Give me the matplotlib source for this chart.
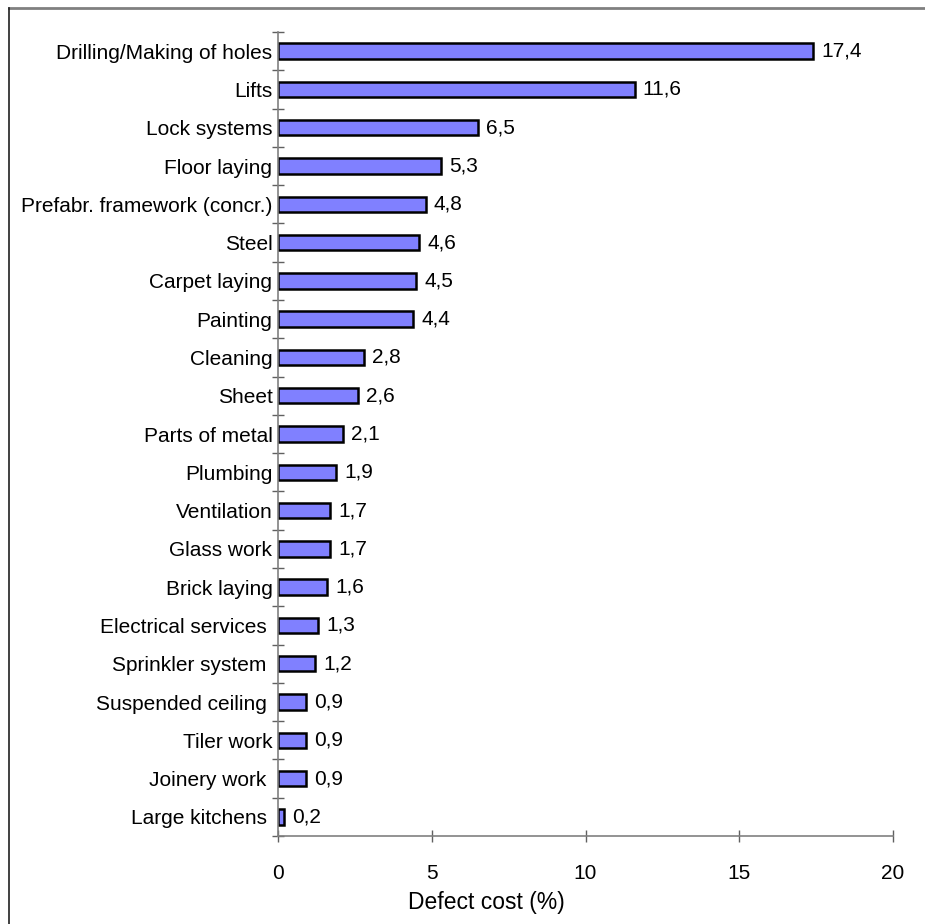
import matplotlib
matplotlib.use("Agg")
import matplotlib.pyplot as plt
from matplotlib.lines import Line2D
from matplotlib.transforms import ScaledTranslation
import numpy as np

plt.rcParams['font.family'] = ['Liberation Sans', 'DejaVu Sans']

categories = [
    "Drilling/Making of holes", "Lifts", "Lock systems", "Floor laying",
    "Prefabr. framework (concr.)", "Steel", "Carpet laying", "Painting",
    "Cleaning", "Sheet", "Parts of metal", "Plumbing", "Ventilation",
    "Glass work", "Brick laying", "Electrical services ", "Sprinkler system ",
    "Suspended ceiling ", "Tiler work", "Joinery work ", "Large kitchens ",
]
values = [17.4, 11.6, 6.5, 5.3, 4.8, 4.6, 4.5, 4.4, 2.8, 2.6, 2.1, 1.9,
          1.7, 1.7, 1.6, 1.3, 1.2, 0.9, 0.9, 0.9, 0.2]
x_ticks = [0, 5, 10, 15, 20]
x_label = "Defect cost (%)"

W, H = 925, 924
FS = 15
fig = plt.figure(figsize=(W / 100, H / 100), dpi=100)
ax = fig.add_axes([278 / W, 1 - 836 / H, (893 - 278) / W, (836 - 32) / H])

n = len(categories)
pos = np.arange(n)[::-1]  # first category at the top
ax.barh(pos, values, height=0.4, color='#8080FF', edgecolor='black', linewidth=1.8)

# value labels just right of each bar end
offset = ScaledTranslation(8 / 100, 0, fig.dpi_scale_trans)
for p, v in zip(pos, values):
    ax.text(v, p, f"{v:.1f}".replace('.', ','), va='center', ha='left',
            fontsize=FS, transform=ax.transData + offset)

ax.set_xlim(0, 20)
ax.set_ylim(-0.5, n - 0.5)

gray = '#808080'
for side in ('top', 'right'):
    ax.spines[side].set_visible(False)
for side in ('left', 'bottom'):
    ax.spines[side].set_color(gray)
    ax.spines[side].set_linewidth(1.2)

ax.set_xticks(x_ticks)
ax.set_xticklabels([str(t) for t in x_ticks], fontsize=FS)
ax.tick_params(axis='x', direction='inout', length=8.6, width=1, color='#606060', pad=16)

ax.set_yticks(pos)
ax.set_yticklabels(categories, fontsize=FS)
ax.tick_params(axis='y', which='major', length=0, pad=4)
ax.set_yticks(np.arange(n + 1) - 0.5, minor=True)
ax.tick_params(axis='y', which='minor', direction='inout', length=8.6, width=1, color='#606060')

fig.text(486 / W, 1 - 903 / H, x_label, ha='center', va='center', fontsize=16.5)

# frame lines along top and left edges of the figure
fig.add_artist(Line2D([9 / W, 1], [1 - 8 / H, 1 - 8 / H], transform=fig.transFigure,
                      color='#808080', linewidth=2))
fig.add_artist(Line2D([9 / W, 9 / W], [0, 1 - 8 / H], transform=fig.transFigure,
                      color='#202020', linewidth=1.2))

fig.savefig("out.png", dpi=100)
